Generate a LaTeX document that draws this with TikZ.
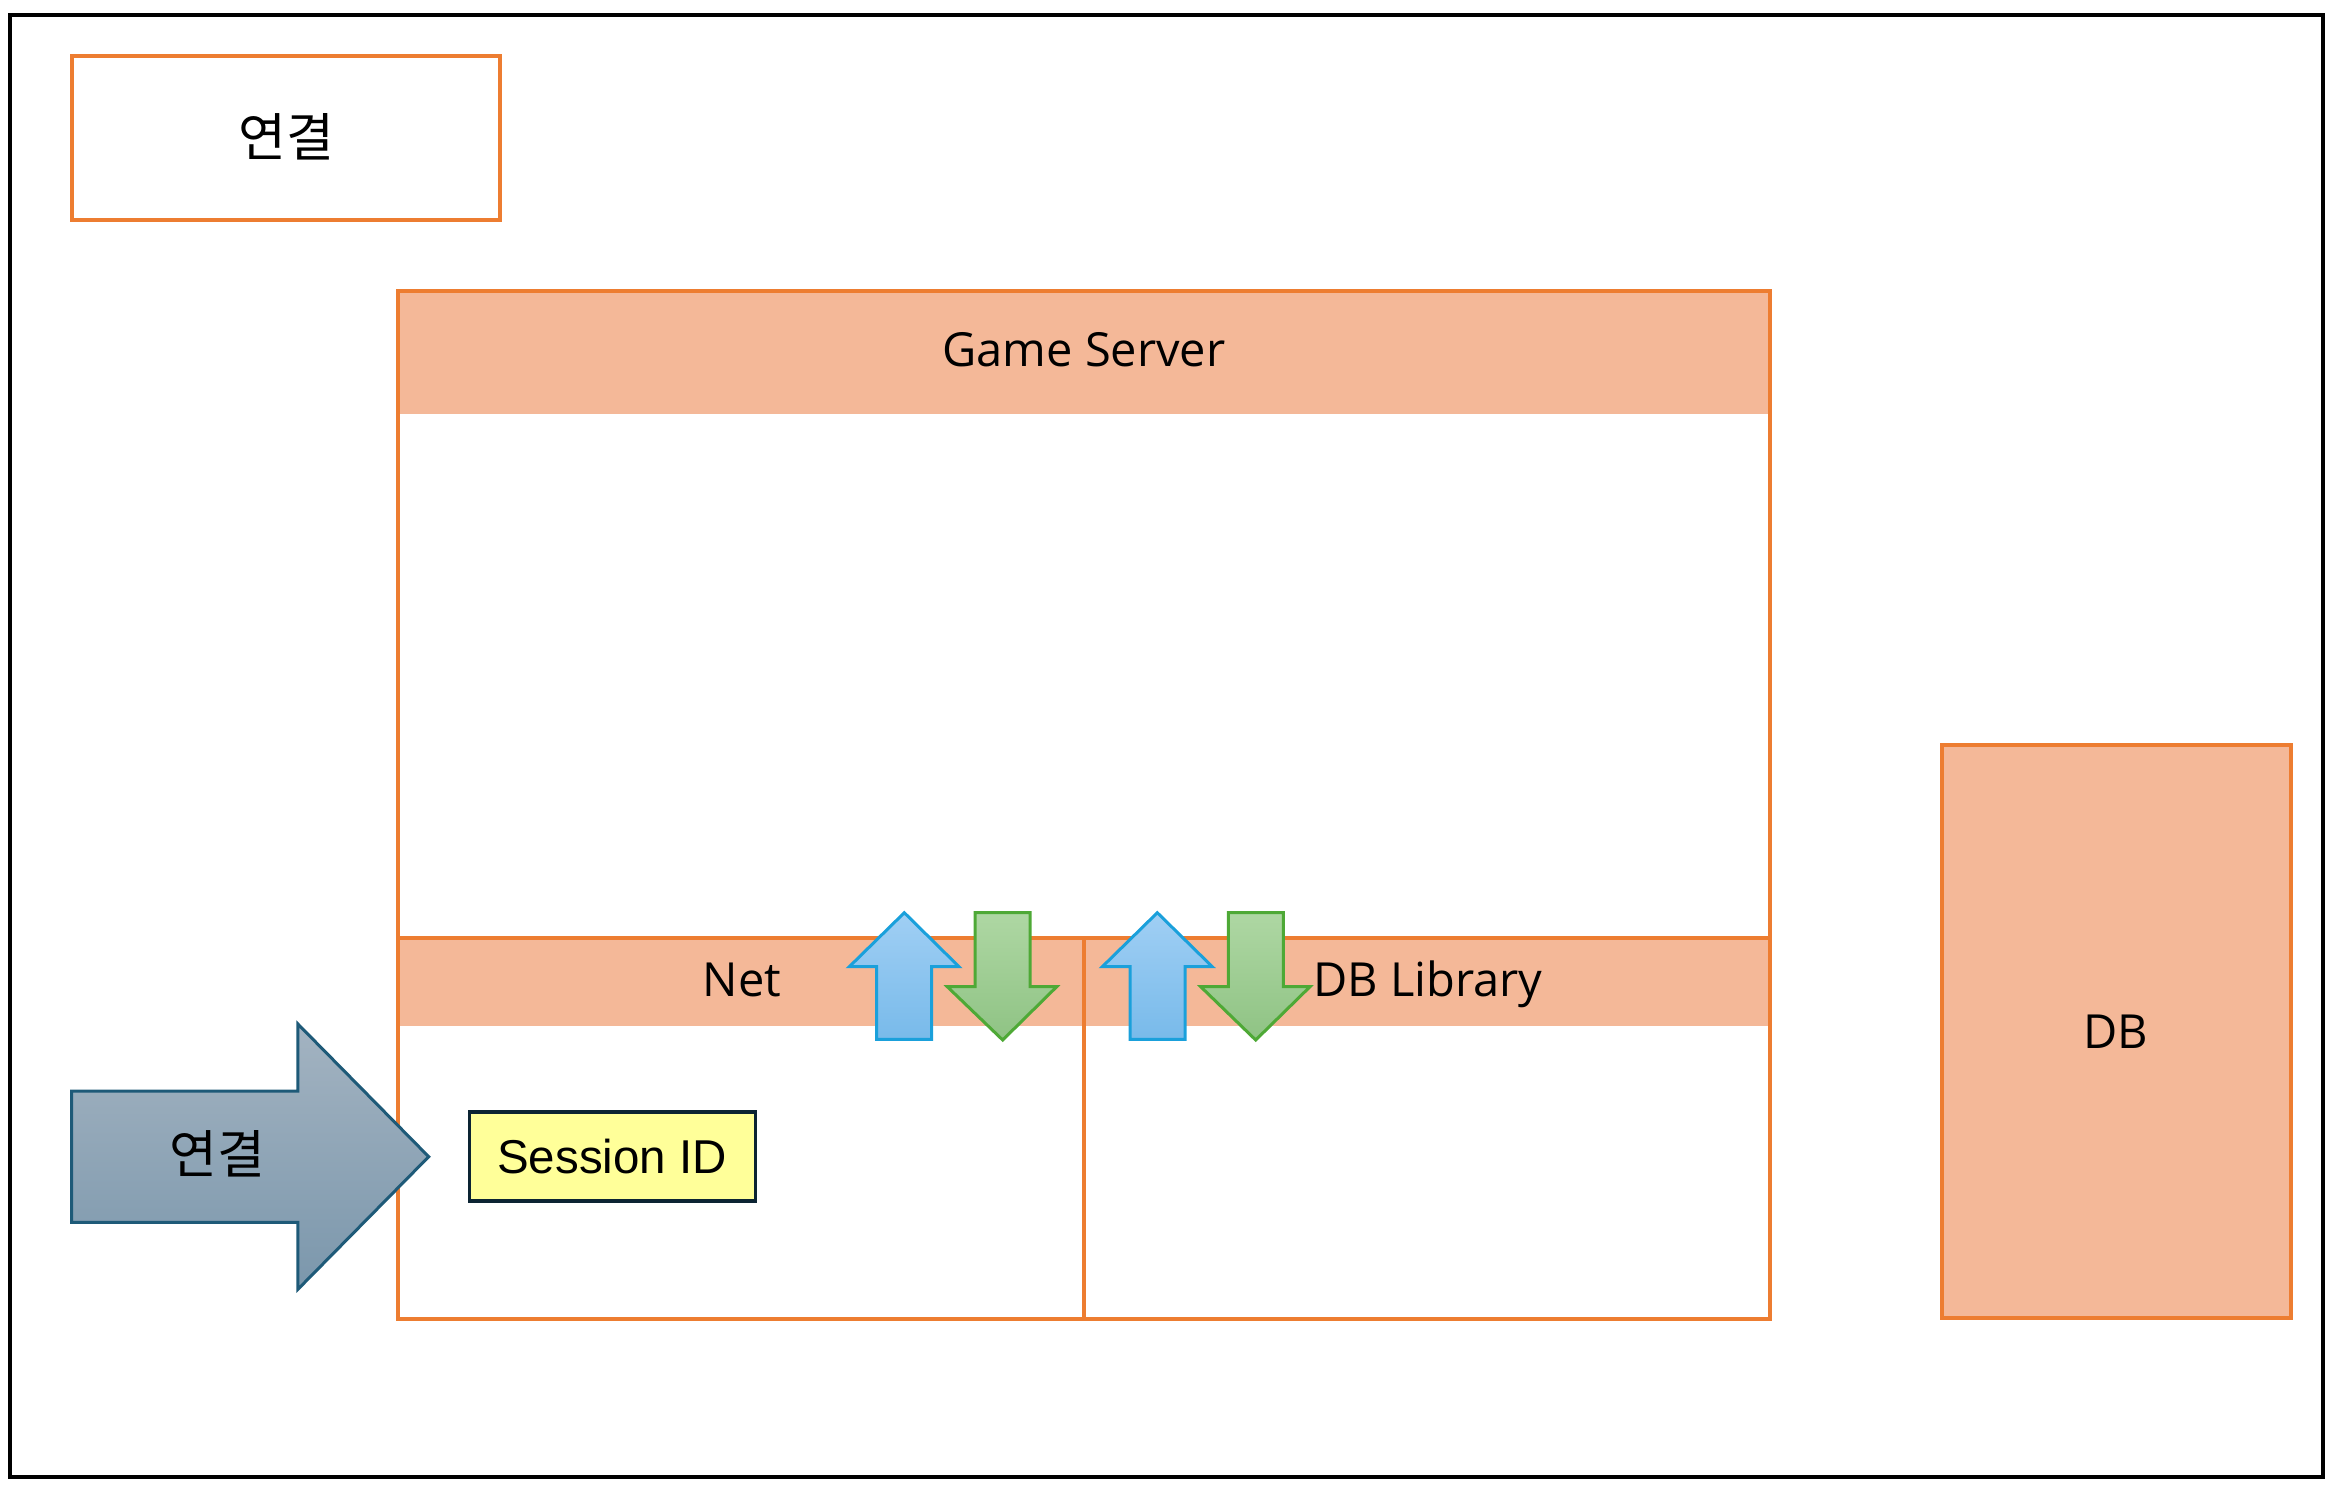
\documentclass[tikz,border=0pt]{standalone}
\usepackage{fontspec}
\setmainfont{Open Sans}
\newfontfamily\krfont{Noto Sans CJK KR}
\newfontfamily\arialfont{Liberation Sans}
\definecolor{orl}{HTML}{ED7D31}
\definecolor{orf}{HTML}{F4B898}
\definecolor{bluetop}{HTML}{A0CFF4}
\definecolor{bluebot}{HTML}{78BAEA}
\definecolor{bluestr}{HTML}{1AA0DB}
\definecolor{greentop}{HTML}{AED7A3}
\definecolor{greenbot}{HTML}{8FC384}
\definecolor{greenstr}{HTML}{4EA936}
\definecolor{slatetop}{HTML}{A3B3C1}
\definecolor{slatebot}{HTML}{7B97AC}
\definecolor{slatestr}{HTML}{1E5A78}
\definecolor{sessfill}{HTML}{FFFF99}
\definecolor{sessstr}{HTML}{0C2433}
\tikzset{
  obox/.style={draw=orl, line width=4pt, inner sep=0pt},
  lbl/.style={font=\fontsize{47}{52}\selectfont, text=black, inner sep=0pt, anchor=base},
  krlbl/.style={font=\krfont\fontsize{52}{56}\selectfont, text=black, inner sep=0pt},
  uparrow/.style={top color=bluetop, bottom color=bluebot, draw=bluestr, line width=3pt, line join=miter},
  downarrow/.style={top color=greentop, bottom color=greenbot, draw=greenstr, line width=3pt, line join=miter},
}
\begin{document}
\begin{tikzpicture}[x=1pt,y=-1pt]
\useasboundingbox (0,0) rectangle (2337,1486);
% outer frame
\draw[line width=4.5pt, black] (10,15) rectangle (2323,1477);
% top-left box
\node[obox, fill=white, minimum width=428pt, minimum height=164pt] (conntop) at (286,138) {};
\node[krlbl] (conntoptext) at (286,137) {연결};
% Game Server
\fill[orf] (398,291) rectangle (1770,414);
\fill[orf] (398,938) rectangle (1770,1026);
\node[obox, minimum width=1372pt, minimum height=1028pt] (gs) at (1084,805) {};
\coordinate (netl) at (398,938);
\coordinate (netr) at (1770,938);
\coordinate (divt) at (1084,938);
\coordinate (divb) at (1084,1319);
\draw[orl, line width=4pt] (netl) -- (netr);
\draw[orl, line width=4pt] (divt) -- (divb);
\node[lbl] (gstext) at (1084,366.5) {Game Server};
\node[lbl] (nettext) at (742,996.5) {Net};
\node[lbl] (dbltext) at (1428,996) {DB Library};
% DB
\node[obox, fill=orf, minimum width=349pt, minimum height=573pt] (db) at (2116.5,1031.5) {};
\node[lbl] (dbtext) at (2116,1048) {DB};
% up/down arrows
\draw[uparrow] (904.3,912.7) -- (959,966.7) -- (931.7,966.7) -- (931.7,1039.3) -- (876.7,1039.3) -- (876.7,966.7) -- (849.3,966.7) -- cycle;
\draw[downarrow] (975,912.7) -- (1030,912.7) -- (1030,986.7) -- (1056.7,986.7) -- (1002.7,1040) -- (947.3,986.7) -- (975,986.7) -- cycle;
\draw[uparrow] (1157.3,912.7) -- (1212.3,966.7) -- (1185,966.7) -- (1185,1039.3) -- (1130,1039.3) -- (1130,966.7) -- (1102.3,966.7) -- cycle;
\draw[downarrow] (1228.3,912.7) -- (1283.3,912.7) -- (1283.3,986.7) -- (1310,986.7) -- (1255.7,1040) -- (1200.7,986.7) -- (1228.3,986.7) -- cycle;
% big arrow
\draw[top color=slatetop, bottom color=slatebot, draw=slatestr, line width=3pt, line join=miter]
  (71.5,1091) -- (297.9,1091) -- (297.9,1024) -- (428.7,1156.7) -- (297.9,1289.3) -- (297.9,1222.3) -- (71.5,1222.3) -- cycle;
\node[krlbl] (connarrow) at (217,1154) {연결};
% Session ID
\node[draw=sessstr, fill=sessfill, line width=3.5pt, minimum width=286pt, minimum height=89pt, inner sep=0pt] (sess) at (612.5,1156.5) {};
\node[font=\arialfont\fontsize{47.5}{52}\selectfont, inner sep=0pt, anchor=base] (sesstext) at (612,1173) {Session ID};
\end{tikzpicture}
\end{document}
